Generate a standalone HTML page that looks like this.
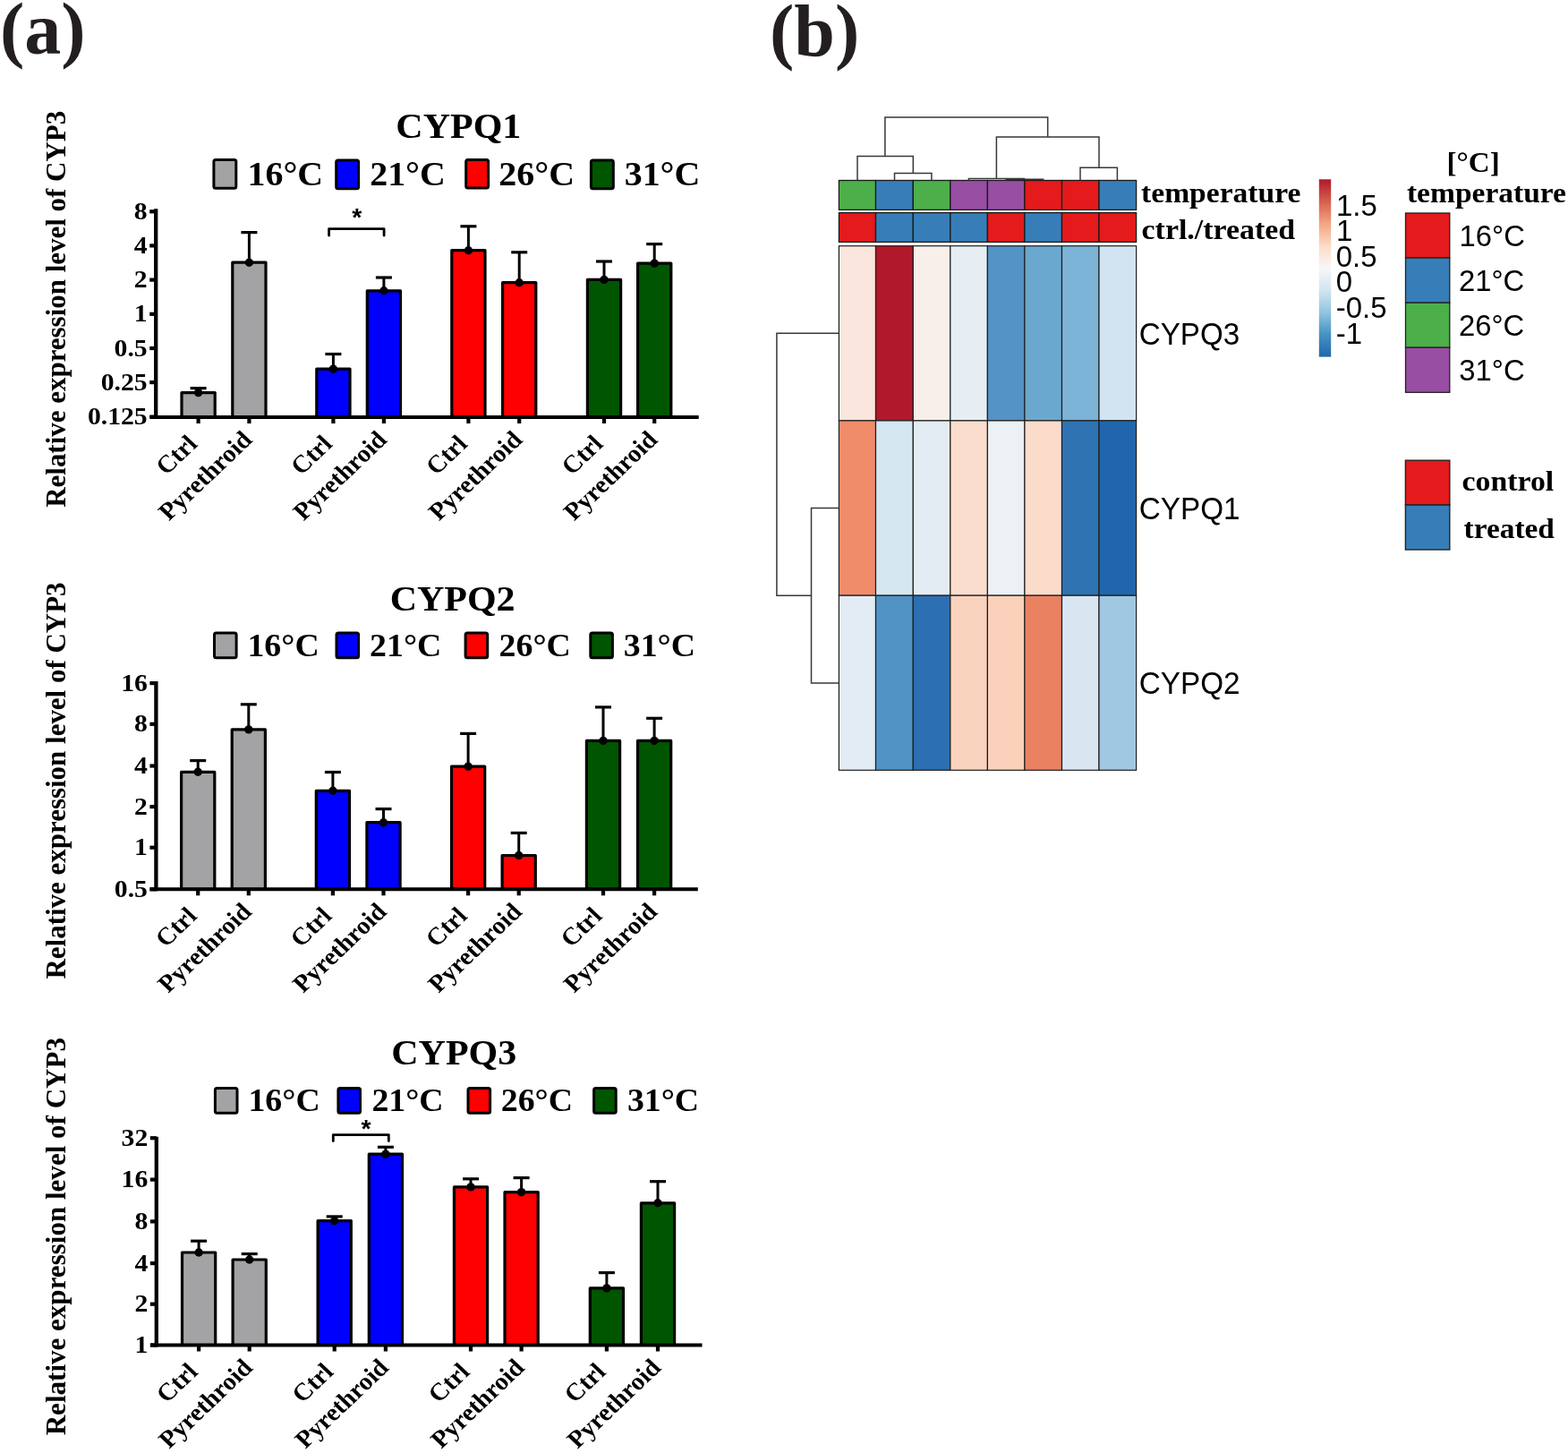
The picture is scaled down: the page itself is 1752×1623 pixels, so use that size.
<!DOCTYPE html>
<html><head><meta charset="utf-8"><title>Figure</title>
<style>html,body{margin:0;padding:0;background:#fff;} svg{display:block;}</style>
</head><body>
<svg width="1752" height="1623" viewBox="0 0 1752 1623">
<rect width="1752" height="1623" fill="#fff"/>
<text x="0" y="60" font-family="'Liberation Serif', serif" font-weight="bold" font-size="82" fill="#231F20">(a)</text>
<text x="860" y="62" font-family="'Liberation Serif', serif" font-weight="bold" font-size="82" fill="#231F20">(b)</text>
<text transform="translate(442.35 154.40) scale(1.05 1)" font-family="'Liberation Serif', serif" font-weight="bold" font-size="40">CYPQ1</text>
<rect x="238.9" y="178.6" width="24.9" height="31.6" rx="2" fill="#A3A3A5" stroke="#000" stroke-width="3"/>
<text transform="translate(276.50 207.40) scale(1.05 1)" font-family="'Liberation Serif', serif" font-weight="bold" font-size="38">16°C</text>
<rect x="375.7" y="179.1" width="24.9" height="31.6" rx="2" fill="#0000FF" stroke="#000" stroke-width="3"/>
<text transform="translate(413.22 207.40) scale(1.05 1)" font-family="'Liberation Serif', serif" font-weight="bold" font-size="38">21°C</text>
<rect x="520.7" y="178.5" width="24.9" height="31.6" rx="2" fill="#FF0000" stroke="#000" stroke-width="3"/>
<text transform="translate(557.32 207.40) scale(1.05 1)" font-family="'Liberation Serif', serif" font-weight="bold" font-size="38">26°C</text>
<rect x="660.4" y="179.1" width="24.9" height="31.6" rx="2" fill="#005500" stroke="#000" stroke-width="3"/>
<text transform="translate(697.70 207.40) scale(1.05 1)" font-family="'Liberation Serif', serif" font-weight="bold" font-size="38">31°C</text>
<rect x="203.0" y="438.6" width="37.2" height="27.4" fill="#A3A3A5" stroke="#000" stroke-width="3.2" stroke-linejoin="round"/>
<line x1="221.6" y1="439.0" x2="221.6" y2="433.6" stroke="#000" stroke-width="3"/>
<line x1="212.6" y1="433.6" x2="230.6" y2="433.6" stroke="#000" stroke-width="3.2"/>
<circle cx="221.6" cy="438.6" r="4.7" fill="#000"/>
<line x1="221.6" y1="466.0" x2="221.6" y2="473.0" stroke="#000" stroke-width="4.2"/>
<rect x="259.8" y="293.2" width="37.2" height="172.8" fill="#A3A3A5" stroke="#000" stroke-width="3.2" stroke-linejoin="round"/>
<line x1="278.4" y1="293.6" x2="278.4" y2="259.6" stroke="#000" stroke-width="3"/>
<line x1="269.4" y1="259.6" x2="287.4" y2="259.6" stroke="#000" stroke-width="3.2"/>
<circle cx="278.4" cy="293.2" r="4.7" fill="#000"/>
<line x1="278.4" y1="466.0" x2="278.4" y2="473.0" stroke="#000" stroke-width="4.2"/>
<rect x="353.8" y="412.1" width="37.2" height="53.9" fill="#0000FF" stroke="#000" stroke-width="3.2" stroke-linejoin="round"/>
<line x1="372.4" y1="412.5" x2="372.4" y2="395.5" stroke="#000" stroke-width="3"/>
<line x1="363.4" y1="395.5" x2="381.4" y2="395.5" stroke="#000" stroke-width="3.2"/>
<circle cx="372.4" cy="412.1" r="4.7" fill="#000"/>
<line x1="372.4" y1="466.0" x2="372.4" y2="473.0" stroke="#000" stroke-width="4.2"/>
<rect x="410.3" y="324.8" width="37.2" height="141.2" fill="#0000FF" stroke="#000" stroke-width="3.2" stroke-linejoin="round"/>
<line x1="428.9" y1="325.2" x2="428.9" y2="310.0" stroke="#000" stroke-width="3"/>
<line x1="419.9" y1="310.0" x2="437.9" y2="310.0" stroke="#000" stroke-width="3.2"/>
<circle cx="428.9" cy="324.8" r="4.7" fill="#000"/>
<line x1="428.9" y1="466.0" x2="428.9" y2="473.0" stroke="#000" stroke-width="4.2"/>
<rect x="504.8" y="279.7" width="37.2" height="186.3" fill="#FF0000" stroke="#000" stroke-width="3.2" stroke-linejoin="round"/>
<line x1="523.4" y1="280.1" x2="523.4" y2="252.8" stroke="#000" stroke-width="3"/>
<line x1="514.4" y1="252.8" x2="532.4" y2="252.8" stroke="#000" stroke-width="3.2"/>
<circle cx="523.4" cy="279.7" r="4.7" fill="#000"/>
<line x1="523.4" y1="466.0" x2="523.4" y2="473.0" stroke="#000" stroke-width="4.2"/>
<rect x="561.6" y="315.7" width="37.2" height="150.3" fill="#FF0000" stroke="#000" stroke-width="3.2" stroke-linejoin="round"/>
<line x1="580.2" y1="316.1" x2="580.2" y2="281.8" stroke="#000" stroke-width="3"/>
<line x1="571.2" y1="281.8" x2="589.2" y2="281.8" stroke="#000" stroke-width="3.2"/>
<circle cx="580.2" cy="315.7" r="4.7" fill="#000"/>
<line x1="580.2" y1="466.0" x2="580.2" y2="473.0" stroke="#000" stroke-width="4.2"/>
<rect x="656.4" y="312.4" width="37.2" height="153.6" fill="#005500" stroke="#000" stroke-width="3.2" stroke-linejoin="round"/>
<line x1="675.0" y1="312.8" x2="675.0" y2="292.0" stroke="#000" stroke-width="3"/>
<line x1="666.0" y1="292.0" x2="684.0" y2="292.0" stroke="#000" stroke-width="3.2"/>
<circle cx="675.0" cy="312.4" r="4.7" fill="#000"/>
<line x1="675.0" y1="466.0" x2="675.0" y2="473.0" stroke="#000" stroke-width="4.2"/>
<rect x="712.6" y="294.1" width="37.2" height="171.9" fill="#005500" stroke="#000" stroke-width="3.2" stroke-linejoin="round"/>
<line x1="731.2" y1="294.5" x2="731.2" y2="272.6" stroke="#000" stroke-width="3"/>
<line x1="722.2" y1="272.6" x2="740.2" y2="272.6" stroke="#000" stroke-width="3.2"/>
<circle cx="731.2" cy="294.1" r="4.7" fill="#000"/>
<line x1="731.2" y1="466.0" x2="731.2" y2="473.0" stroke="#000" stroke-width="4.2"/>
<line x1="174.2" y1="233.2" x2="174.2" y2="468.0" stroke="#000" stroke-width="4.3"/>
<line x1="167.5" y1="466.0" x2="780.7" y2="466.0" stroke="#000" stroke-width="4"/>
<line x1="167.2" y1="236.3" x2="174.2" y2="236.3" stroke="#000" stroke-width="4.2"/>
<text transform="translate(164.70 244.90) scale(1.05 1)" text-anchor="end" font-family="'Liberation Serif', serif" font-weight="bold" font-size="28.3">8</text>
<line x1="167.2" y1="274.4" x2="174.2" y2="274.4" stroke="#000" stroke-width="4.2"/>
<text transform="translate(164.70 283.00) scale(1.05 1)" text-anchor="end" font-family="'Liberation Serif', serif" font-weight="bold" font-size="28.3">4</text>
<line x1="167.2" y1="312.6" x2="174.2" y2="312.6" stroke="#000" stroke-width="4.2"/>
<text transform="translate(164.70 321.20) scale(1.05 1)" text-anchor="end" font-family="'Liberation Serif', serif" font-weight="bold" font-size="28.3">2</text>
<line x1="167.2" y1="350.8" x2="174.2" y2="350.8" stroke="#000" stroke-width="4.2"/>
<text transform="translate(164.70 359.40) scale(1.05 1)" text-anchor="end" font-family="'Liberation Serif', serif" font-weight="bold" font-size="28.3">1</text>
<line x1="167.2" y1="389.0" x2="174.2" y2="389.0" stroke="#000" stroke-width="4.2"/>
<text transform="translate(164.70 397.60) scale(1.05 1)" text-anchor="end" font-family="'Liberation Serif', serif" font-weight="bold" font-size="28.3">0.5</text>
<line x1="167.2" y1="427.1" x2="174.2" y2="427.1" stroke="#000" stroke-width="4.2"/>
<text transform="translate(164.70 435.70) scale(1.05 1)" text-anchor="end" font-family="'Liberation Serif', serif" font-weight="bold" font-size="28.3">0.25</text>
<line x1="167.2" y1="465.6" x2="174.2" y2="465.6" stroke="#000" stroke-width="4.2"/>
<text transform="translate(164.70 474.20) scale(1.05 1)" text-anchor="end" font-family="'Liberation Serif', serif" font-weight="bold" font-size="28.3">0.125</text>
<text transform="translate(221.90 497.30) scale(1.05 1) rotate(-45)" text-anchor="end" font-family="'Liberation Serif', serif" font-weight="bold" font-size="27.5">Ctrl</text>
<text transform="translate(283.20 492.60) scale(1.05 1) rotate(-45)" text-anchor="end" font-family="'Liberation Serif', serif" font-weight="bold" font-size="27.5">Pyrethroid</text>
<text transform="translate(372.70 497.30) scale(1.05 1) rotate(-45)" text-anchor="end" font-family="'Liberation Serif', serif" font-weight="bold" font-size="27.5">Ctrl</text>
<text transform="translate(433.70 492.60) scale(1.05 1) rotate(-45)" text-anchor="end" font-family="'Liberation Serif', serif" font-weight="bold" font-size="27.5">Pyrethroid</text>
<text transform="translate(523.70 497.30) scale(1.05 1) rotate(-45)" text-anchor="end" font-family="'Liberation Serif', serif" font-weight="bold" font-size="27.5">Ctrl</text>
<text transform="translate(585.00 492.60) scale(1.05 1) rotate(-45)" text-anchor="end" font-family="'Liberation Serif', serif" font-weight="bold" font-size="27.5">Pyrethroid</text>
<text transform="translate(675.30 497.30) scale(1.05 1) rotate(-45)" text-anchor="end" font-family="'Liberation Serif', serif" font-weight="bold" font-size="27.5">Ctrl</text>
<text transform="translate(736.00 492.60) scale(1.05 1) rotate(-45)" text-anchor="end" font-family="'Liberation Serif', serif" font-weight="bold" font-size="27.5">Pyrethroid</text>
<polyline points="367.6,263.1 367.6,255.6 429.1,255.6 429.1,263.1" fill="none" stroke="#000" stroke-width="2.8" stroke-linejoin="round" stroke-linecap="round"/>
<text transform="translate(398.70 251.90) scale(1.0 1)" text-anchor="middle" font-family="'Liberation Sans', sans-serif" font-weight="bold" font-size="28.4">*</text>
<text transform="translate(72.70 566.80) scale(1.05 1) rotate(-90)" font-family="'Liberation Serif', serif" font-weight="bold" font-size="31" textLength="443.0" lengthAdjust="spacingAndGlyphs">Relative expression level of CYP3</text>
<text transform="translate(435.65 681.50) scale(1.05 1)" font-family="'Liberation Serif', serif" font-weight="bold" font-size="40">CYPQ2</text>
<rect x="239.5" y="707.0" width="24.6" height="27.8" rx="2" fill="#A3A3A5" stroke="#000" stroke-width="3"/>
<text transform="translate(276.47 732.70) scale(1.05 1)" font-family="'Liberation Serif', serif" font-weight="bold" font-size="36">16°C</text>
<rect x="376.0" y="707.0" width="24.6" height="27.8" rx="2" fill="#0000FF" stroke="#000" stroke-width="3"/>
<text transform="translate(413.11 732.70) scale(1.05 1)" font-family="'Liberation Serif', serif" font-weight="bold" font-size="36">21°C</text>
<rect x="520.1" y="707.0" width="24.6" height="27.8" rx="2" fill="#FF0000" stroke="#000" stroke-width="3"/>
<text transform="translate(557.61 732.70) scale(1.05 1)" font-family="'Liberation Serif', serif" font-weight="bold" font-size="36">26°C</text>
<rect x="659.8" y="707.0" width="24.6" height="27.8" rx="2" fill="#005500" stroke="#000" stroke-width="3"/>
<text transform="translate(696.78 732.70) scale(1.05 1)" font-family="'Liberation Serif', serif" font-weight="bold" font-size="36">31°C</text>
<rect x="202.6" y="862.3" width="37.2" height="131.0" fill="#A3A3A5" stroke="#000" stroke-width="3.2" stroke-linejoin="round"/>
<line x1="221.2" y1="862.7" x2="221.2" y2="849.6" stroke="#000" stroke-width="3"/>
<line x1="212.2" y1="849.6" x2="230.2" y2="849.6" stroke="#000" stroke-width="3.2"/>
<circle cx="221.2" cy="862.3" r="4.7" fill="#000"/>
<line x1="221.2" y1="993.3" x2="221.2" y2="1000.3" stroke="#000" stroke-width="4.2"/>
<rect x="259.2" y="814.9" width="37.2" height="178.4" fill="#A3A3A5" stroke="#000" stroke-width="3.2" stroke-linejoin="round"/>
<line x1="277.8" y1="815.3" x2="277.8" y2="786.8" stroke="#000" stroke-width="3"/>
<line x1="268.8" y1="786.8" x2="286.8" y2="786.8" stroke="#000" stroke-width="3.2"/>
<circle cx="277.8" cy="814.9" r="4.7" fill="#000"/>
<line x1="277.8" y1="993.3" x2="277.8" y2="1000.3" stroke="#000" stroke-width="4.2"/>
<rect x="353.3" y="883.3" width="37.2" height="110.0" fill="#0000FF" stroke="#000" stroke-width="3.2" stroke-linejoin="round"/>
<line x1="371.9" y1="883.7" x2="371.9" y2="862.5" stroke="#000" stroke-width="3"/>
<line x1="362.9" y1="862.5" x2="380.9" y2="862.5" stroke="#000" stroke-width="3.2"/>
<circle cx="371.9" cy="883.3" r="4.7" fill="#000"/>
<line x1="371.9" y1="993.3" x2="371.9" y2="1000.3" stroke="#000" stroke-width="4.2"/>
<rect x="409.9" y="918.7" width="37.2" height="74.6" fill="#0000FF" stroke="#000" stroke-width="3.2" stroke-linejoin="round"/>
<line x1="428.5" y1="919.1" x2="428.5" y2="903.6" stroke="#000" stroke-width="3"/>
<line x1="419.5" y1="903.6" x2="437.5" y2="903.6" stroke="#000" stroke-width="3.2"/>
<circle cx="428.5" cy="918.7" r="4.7" fill="#000"/>
<line x1="428.5" y1="993.3" x2="428.5" y2="1000.3" stroke="#000" stroke-width="4.2"/>
<rect x="504.5" y="856.1" width="37.2" height="137.2" fill="#FF0000" stroke="#000" stroke-width="3.2" stroke-linejoin="round"/>
<line x1="523.1" y1="856.5" x2="523.1" y2="819.4" stroke="#000" stroke-width="3"/>
<line x1="514.1" y1="819.4" x2="532.1" y2="819.4" stroke="#000" stroke-width="3.2"/>
<circle cx="523.1" cy="856.1" r="4.7" fill="#000"/>
<line x1="523.1" y1="993.3" x2="523.1" y2="1000.3" stroke="#000" stroke-width="4.2"/>
<rect x="561.1" y="955.5" width="37.2" height="37.8" fill="#FF0000" stroke="#000" stroke-width="3.2" stroke-linejoin="round"/>
<line x1="579.7" y1="955.9" x2="579.7" y2="930.4" stroke="#000" stroke-width="3"/>
<line x1="570.7" y1="930.4" x2="588.7" y2="930.4" stroke="#000" stroke-width="3.2"/>
<circle cx="579.7" cy="955.5" r="4.7" fill="#000"/>
<line x1="579.7" y1="993.3" x2="579.7" y2="1000.3" stroke="#000" stroke-width="4.2"/>
<rect x="655.4" y="827.4" width="37.2" height="165.9" fill="#005500" stroke="#000" stroke-width="3.2" stroke-linejoin="round"/>
<line x1="674.0" y1="827.8" x2="674.0" y2="789.9" stroke="#000" stroke-width="3"/>
<line x1="665.0" y1="789.9" x2="683.0" y2="789.9" stroke="#000" stroke-width="3.2"/>
<circle cx="674.0" cy="827.4" r="4.7" fill="#000"/>
<line x1="674.0" y1="993.3" x2="674.0" y2="1000.3" stroke="#000" stroke-width="4.2"/>
<rect x="712.5" y="827.4" width="37.2" height="165.9" fill="#005500" stroke="#000" stroke-width="3.2" stroke-linejoin="round"/>
<line x1="731.1" y1="827.8" x2="731.1" y2="802.3" stroke="#000" stroke-width="3"/>
<line x1="722.1" y1="802.3" x2="740.1" y2="802.3" stroke="#000" stroke-width="3.2"/>
<circle cx="731.1" cy="827.4" r="4.7" fill="#000"/>
<line x1="731.1" y1="993.3" x2="731.1" y2="1000.3" stroke="#000" stroke-width="4.2"/>
<line x1="174.4" y1="760.9" x2="174.4" y2="995.3" stroke="#000" stroke-width="4.3"/>
<line x1="167.5" y1="993.3" x2="779.8" y2="993.3" stroke="#000" stroke-width="4"/>
<line x1="167.4" y1="763.1" x2="174.4" y2="763.1" stroke="#000" stroke-width="4.2"/>
<text transform="translate(164.90 771.70) scale(1.05 1)" text-anchor="end" font-family="'Liberation Serif', serif" font-weight="bold" font-size="28.3">16</text>
<line x1="167.4" y1="808.8" x2="174.4" y2="808.8" stroke="#000" stroke-width="4.2"/>
<text transform="translate(164.90 817.40) scale(1.05 1)" text-anchor="end" font-family="'Liberation Serif', serif" font-weight="bold" font-size="28.3">8</text>
<line x1="167.4" y1="855.5" x2="174.4" y2="855.5" stroke="#000" stroke-width="4.2"/>
<text transform="translate(164.90 864.10) scale(1.05 1)" text-anchor="end" font-family="'Liberation Serif', serif" font-weight="bold" font-size="28.3">4</text>
<line x1="167.4" y1="901.1" x2="174.4" y2="901.1" stroke="#000" stroke-width="4.2"/>
<text transform="translate(164.90 909.70) scale(1.05 1)" text-anchor="end" font-family="'Liberation Serif', serif" font-weight="bold" font-size="28.3">2</text>
<line x1="167.4" y1="946.7" x2="174.4" y2="946.7" stroke="#000" stroke-width="4.2"/>
<text transform="translate(164.90 955.30) scale(1.05 1)" text-anchor="end" font-family="'Liberation Serif', serif" font-weight="bold" font-size="28.3">1</text>
<line x1="167.4" y1="993.3" x2="174.4" y2="993.3" stroke="#000" stroke-width="4.2"/>
<text transform="translate(164.90 1001.90) scale(1.05 1)" text-anchor="end" font-family="'Liberation Serif', serif" font-weight="bold" font-size="28.3">0.5</text>
<text transform="translate(221.50 1024.60) scale(1.05 1) rotate(-45)" text-anchor="end" font-family="'Liberation Serif', serif" font-weight="bold" font-size="27.5">Ctrl</text>
<text transform="translate(282.60 1019.90) scale(1.05 1) rotate(-45)" text-anchor="end" font-family="'Liberation Serif', serif" font-weight="bold" font-size="27.5">Pyrethroid</text>
<text transform="translate(372.20 1024.60) scale(1.05 1) rotate(-45)" text-anchor="end" font-family="'Liberation Serif', serif" font-weight="bold" font-size="27.5">Ctrl</text>
<text transform="translate(433.30 1019.90) scale(1.05 1) rotate(-45)" text-anchor="end" font-family="'Liberation Serif', serif" font-weight="bold" font-size="27.5">Pyrethroid</text>
<text transform="translate(523.40 1024.60) scale(1.05 1) rotate(-45)" text-anchor="end" font-family="'Liberation Serif', serif" font-weight="bold" font-size="27.5">Ctrl</text>
<text transform="translate(584.50 1019.90) scale(1.05 1) rotate(-45)" text-anchor="end" font-family="'Liberation Serif', serif" font-weight="bold" font-size="27.5">Pyrethroid</text>
<text transform="translate(674.30 1024.60) scale(1.05 1) rotate(-45)" text-anchor="end" font-family="'Liberation Serif', serif" font-weight="bold" font-size="27.5">Ctrl</text>
<text transform="translate(735.90 1019.90) scale(1.05 1) rotate(-45)" text-anchor="end" font-family="'Liberation Serif', serif" font-weight="bold" font-size="27.5">Pyrethroid</text>
<text transform="translate(72.70 1093.50) scale(1.05 1) rotate(-90)" font-family="'Liberation Serif', serif" font-weight="bold" font-size="31" textLength="443.1" lengthAdjust="spacingAndGlyphs">Relative expression level of CYP3</text>
<text transform="translate(437.25 1189.00) scale(1.05 1)" font-family="'Liberation Serif', serif" font-weight="bold" font-size="40">CYPQ3</text>
<rect x="240.4" y="1215.4" width="24.6" height="27.8" rx="2" fill="#A3A3A5" stroke="#000" stroke-width="3"/>
<text transform="translate(277.47 1241.10) scale(1.05 1)" font-family="'Liberation Serif', serif" font-weight="bold" font-size="36">16°C</text>
<rect x="377.9" y="1215.4" width="24.6" height="27.8" rx="2" fill="#0000FF" stroke="#000" stroke-width="3"/>
<text transform="translate(415.41 1241.10) scale(1.05 1)" font-family="'Liberation Serif', serif" font-weight="bold" font-size="36">21°C</text>
<rect x="523.0" y="1215.4" width="24.6" height="27.8" rx="2" fill="#FF0000" stroke="#000" stroke-width="3"/>
<text transform="translate(559.81 1241.10) scale(1.05 1)" font-family="'Liberation Serif', serif" font-weight="bold" font-size="36">26°C</text>
<rect x="663.6" y="1215.4" width="24.6" height="27.8" rx="2" fill="#005500" stroke="#000" stroke-width="3"/>
<text transform="translate(700.88 1241.10) scale(1.05 1)" font-family="'Liberation Serif', serif" font-weight="bold" font-size="36">31°C</text>
<rect x="203.5" y="1399.0" width="37.2" height="103.5" fill="#A3A3A5" stroke="#000" stroke-width="3.2" stroke-linejoin="round"/>
<line x1="222.1" y1="1399.4" x2="222.1" y2="1386.2" stroke="#000" stroke-width="3"/>
<line x1="213.1" y1="1386.2" x2="231.1" y2="1386.2" stroke="#000" stroke-width="3.2"/>
<circle cx="222.1" cy="1399.0" r="4.7" fill="#000"/>
<line x1="222.1" y1="1502.5" x2="222.1" y2="1509.5" stroke="#000" stroke-width="4.2"/>
<rect x="260.1" y="1407.0" width="37.2" height="95.5" fill="#A3A3A5" stroke="#000" stroke-width="3.2" stroke-linejoin="round"/>
<line x1="278.7" y1="1407.4" x2="278.7" y2="1400.6" stroke="#000" stroke-width="3"/>
<line x1="269.7" y1="1400.6" x2="287.7" y2="1400.6" stroke="#000" stroke-width="3.2"/>
<circle cx="278.7" cy="1407.0" r="4.7" fill="#000"/>
<line x1="278.7" y1="1502.5" x2="278.7" y2="1509.5" stroke="#000" stroke-width="4.2"/>
<rect x="355.1" y="1363.7" width="37.2" height="138.8" fill="#0000FF" stroke="#000" stroke-width="3.2" stroke-linejoin="round"/>
<line x1="373.7" y1="1364.1" x2="373.7" y2="1358.9" stroke="#000" stroke-width="3"/>
<line x1="364.7" y1="1358.9" x2="382.7" y2="1358.9" stroke="#000" stroke-width="3.2"/>
<circle cx="373.7" cy="1363.7" r="4.7" fill="#000"/>
<line x1="373.7" y1="1502.5" x2="373.7" y2="1509.5" stroke="#000" stroke-width="4.2"/>
<rect x="412.3" y="1289.1" width="37.2" height="213.4" fill="#0000FF" stroke="#000" stroke-width="3.2" stroke-linejoin="round"/>
<line x1="430.9" y1="1289.5" x2="430.9" y2="1281.3" stroke="#000" stroke-width="3"/>
<line x1="421.9" y1="1281.3" x2="439.9" y2="1281.3" stroke="#000" stroke-width="3.2"/>
<circle cx="430.9" cy="1289.1" r="4.7" fill="#000"/>
<line x1="430.9" y1="1502.5" x2="430.9" y2="1509.5" stroke="#000" stroke-width="4.2"/>
<rect x="507.4" y="1325.9" width="37.2" height="176.6" fill="#FF0000" stroke="#000" stroke-width="3.2" stroke-linejoin="round"/>
<line x1="526.0" y1="1326.3" x2="526.0" y2="1316.8" stroke="#000" stroke-width="3"/>
<line x1="517.0" y1="1316.8" x2="535.0" y2="1316.8" stroke="#000" stroke-width="3.2"/>
<circle cx="526.0" cy="1325.9" r="4.7" fill="#000"/>
<line x1="526.0" y1="1502.5" x2="526.0" y2="1509.5" stroke="#000" stroke-width="4.2"/>
<rect x="564.0" y="1331.6" width="37.2" height="170.9" fill="#FF0000" stroke="#000" stroke-width="3.2" stroke-linejoin="round"/>
<line x1="582.6" y1="1332.0" x2="582.6" y2="1315.6" stroke="#000" stroke-width="3"/>
<line x1="573.6" y1="1315.6" x2="591.6" y2="1315.6" stroke="#000" stroke-width="3.2"/>
<circle cx="582.6" cy="1331.6" r="4.7" fill="#000"/>
<line x1="582.6" y1="1502.5" x2="582.6" y2="1509.5" stroke="#000" stroke-width="4.2"/>
<rect x="659.3" y="1438.9" width="37.2" height="63.6" fill="#005500" stroke="#000" stroke-width="3.2" stroke-linejoin="round"/>
<line x1="677.9" y1="1439.3" x2="677.9" y2="1421.6" stroke="#000" stroke-width="3"/>
<line x1="668.9" y1="1421.6" x2="686.9" y2="1421.6" stroke="#000" stroke-width="3.2"/>
<circle cx="677.9" cy="1438.9" r="4.7" fill="#000"/>
<line x1="677.9" y1="1502.5" x2="677.9" y2="1509.5" stroke="#000" stroke-width="4.2"/>
<rect x="716.4" y="1343.8" width="37.2" height="158.7" fill="#005500" stroke="#000" stroke-width="3.2" stroke-linejoin="round"/>
<line x1="735.0" y1="1344.2" x2="735.0" y2="1319.7" stroke="#000" stroke-width="3"/>
<line x1="726.0" y1="1319.7" x2="744.0" y2="1319.7" stroke="#000" stroke-width="3.2"/>
<circle cx="735.0" cy="1343.8" r="4.7" fill="#000"/>
<line x1="735.0" y1="1502.5" x2="735.0" y2="1509.5" stroke="#000" stroke-width="4.2"/>
<line x1="174.8" y1="1269.7" x2="174.8" y2="1504.5" stroke="#000" stroke-width="4.3"/>
<line x1="168.0" y1="1502.5" x2="784.5" y2="1502.5" stroke="#000" stroke-width="4"/>
<line x1="167.8" y1="1271.2" x2="174.8" y2="1271.2" stroke="#000" stroke-width="4.2"/>
<text transform="translate(165.30 1279.80) scale(1.05 1)" text-anchor="end" font-family="'Liberation Serif', serif" font-weight="bold" font-size="28.3">32</text>
<line x1="167.8" y1="1317.6" x2="174.8" y2="1317.6" stroke="#000" stroke-width="4.2"/>
<text transform="translate(165.30 1326.20) scale(1.05 1)" text-anchor="end" font-family="'Liberation Serif', serif" font-weight="bold" font-size="28.3">16</text>
<line x1="167.8" y1="1364.4" x2="174.8" y2="1364.4" stroke="#000" stroke-width="4.2"/>
<text transform="translate(165.30 1373.00) scale(1.05 1)" text-anchor="end" font-family="'Liberation Serif', serif" font-weight="bold" font-size="28.3">8</text>
<line x1="167.8" y1="1411.1" x2="174.8" y2="1411.1" stroke="#000" stroke-width="4.2"/>
<text transform="translate(165.30 1419.70) scale(1.05 1)" text-anchor="end" font-family="'Liberation Serif', serif" font-weight="bold" font-size="28.3">4</text>
<line x1="167.8" y1="1456.7" x2="174.8" y2="1456.7" stroke="#000" stroke-width="4.2"/>
<text transform="translate(165.30 1465.30) scale(1.05 1)" text-anchor="end" font-family="'Liberation Serif', serif" font-weight="bold" font-size="28.3">2</text>
<line x1="167.8" y1="1502.5" x2="174.8" y2="1502.5" stroke="#000" stroke-width="4.2"/>
<text transform="translate(165.30 1511.10) scale(1.05 1)" text-anchor="end" font-family="'Liberation Serif', serif" font-weight="bold" font-size="28.3">1</text>
<text transform="translate(222.40 1533.80) scale(1.05 1) rotate(-45)" text-anchor="end" font-family="'Liberation Serif', serif" font-weight="bold" font-size="27.5">Ctrl</text>
<text transform="translate(283.50 1529.10) scale(1.05 1) rotate(-45)" text-anchor="end" font-family="'Liberation Serif', serif" font-weight="bold" font-size="27.5">Pyrethroid</text>
<text transform="translate(374.00 1533.80) scale(1.05 1) rotate(-45)" text-anchor="end" font-family="'Liberation Serif', serif" font-weight="bold" font-size="27.5">Ctrl</text>
<text transform="translate(435.70 1529.10) scale(1.05 1) rotate(-45)" text-anchor="end" font-family="'Liberation Serif', serif" font-weight="bold" font-size="27.5">Pyrethroid</text>
<text transform="translate(526.30 1533.80) scale(1.05 1) rotate(-45)" text-anchor="end" font-family="'Liberation Serif', serif" font-weight="bold" font-size="27.5">Ctrl</text>
<text transform="translate(587.40 1529.10) scale(1.05 1) rotate(-45)" text-anchor="end" font-family="'Liberation Serif', serif" font-weight="bold" font-size="27.5">Pyrethroid</text>
<text transform="translate(678.20 1533.80) scale(1.05 1) rotate(-45)" text-anchor="end" font-family="'Liberation Serif', serif" font-weight="bold" font-size="27.5">Ctrl</text>
<text transform="translate(739.80 1529.10) scale(1.05 1) rotate(-45)" text-anchor="end" font-family="'Liberation Serif', serif" font-weight="bold" font-size="27.5">Pyrethroid</text>
<polyline points="372.3,1274.6 372.3,1267.6 434.3,1267.6 434.3,1274.6" fill="none" stroke="#000" stroke-width="2.8" stroke-linejoin="round" stroke-linecap="round"/>
<text transform="translate(409.00 1270.20) scale(1.0 1)" text-anchor="middle" font-family="'Liberation Sans', sans-serif" font-weight="bold" font-size="28.4">*</text>
<text transform="translate(73.00 1603.30) scale(1.05 1) rotate(-90)" font-family="'Liberation Serif', serif" font-weight="bold" font-size="31" textLength="444.3" lengthAdjust="spacingAndGlyphs">Relative expression level of CYP3</text>
<rect x="937.4" y="201.5" width="41.1" height="32.9" fill="#4DAF4A" stroke="#1a1a1a" stroke-width="1.3"/>
<rect x="978.5" y="201.5" width="41.8" height="32.9" fill="#377EB8" stroke="#1a1a1a" stroke-width="1.3"/>
<rect x="1020.3" y="201.5" width="41.5" height="32.9" fill="#4DAF4A" stroke="#1a1a1a" stroke-width="1.3"/>
<rect x="1061.8" y="201.5" width="41.6" height="32.9" fill="#984EA3" stroke="#1a1a1a" stroke-width="1.3"/>
<rect x="1103.4" y="201.5" width="41.5" height="32.9" fill="#984EA3" stroke="#1a1a1a" stroke-width="1.3"/>
<rect x="1144.9" y="201.5" width="41.6" height="32.9" fill="#E41A1C" stroke="#1a1a1a" stroke-width="1.3"/>
<rect x="1186.5" y="201.5" width="41.5" height="32.9" fill="#E41A1C" stroke="#1a1a1a" stroke-width="1.3"/>
<rect x="1228.0" y="201.5" width="41.6" height="32.9" fill="#377EB8" stroke="#1a1a1a" stroke-width="1.3"/>
<rect x="937.4" y="237.6" width="41.1" height="32.8" fill="#E41A1C" stroke="#1a1a1a" stroke-width="1.3"/>
<rect x="978.5" y="237.6" width="41.8" height="32.8" fill="#377EB8" stroke="#1a1a1a" stroke-width="1.3"/>
<rect x="1020.3" y="237.6" width="41.5" height="32.8" fill="#377EB8" stroke="#1a1a1a" stroke-width="1.3"/>
<rect x="1061.8" y="237.6" width="41.6" height="32.8" fill="#377EB8" stroke="#1a1a1a" stroke-width="1.3"/>
<rect x="1103.4" y="237.6" width="41.5" height="32.8" fill="#E41A1C" stroke="#1a1a1a" stroke-width="1.3"/>
<rect x="1144.9" y="237.6" width="41.6" height="32.8" fill="#377EB8" stroke="#1a1a1a" stroke-width="1.3"/>
<rect x="1186.5" y="237.6" width="41.5" height="32.8" fill="#E41A1C" stroke="#1a1a1a" stroke-width="1.3"/>
<rect x="1228.0" y="237.6" width="41.6" height="32.8" fill="#E41A1C" stroke="#1a1a1a" stroke-width="1.3"/>
<rect x="937.4" y="274.7" width="41.1" height="195.2" fill="#FAE6DC" stroke="#1e1e1e" stroke-width="1.2"/>
<rect x="978.5" y="274.7" width="41.8" height="195.2" fill="#B2182B" stroke="#1e1e1e" stroke-width="1.2"/>
<rect x="1020.3" y="274.7" width="41.5" height="195.2" fill="#F9EFEA" stroke="#1e1e1e" stroke-width="1.2"/>
<rect x="1061.8" y="274.7" width="41.6" height="195.2" fill="#E6EEF3" stroke="#1e1e1e" stroke-width="1.2"/>
<rect x="1103.4" y="274.7" width="41.5" height="195.2" fill="#5393C5" stroke="#1e1e1e" stroke-width="1.2"/>
<rect x="1144.9" y="274.7" width="41.6" height="195.2" fill="#6AA8D0" stroke="#1e1e1e" stroke-width="1.2"/>
<rect x="1186.5" y="274.7" width="41.5" height="195.2" fill="#7BB4D6" stroke="#1e1e1e" stroke-width="1.2"/>
<rect x="1228.0" y="274.7" width="41.6" height="195.2" fill="#D2E4F1" stroke="#1e1e1e" stroke-width="1.2"/>
<rect x="937.4" y="469.9" width="41.1" height="195.3" fill="#F08C6A" stroke="#1e1e1e" stroke-width="1.2"/>
<rect x="978.5" y="469.9" width="41.8" height="195.3" fill="#D5E7F1" stroke="#1e1e1e" stroke-width="1.2"/>
<rect x="1020.3" y="469.9" width="41.5" height="195.3" fill="#E4ECF3" stroke="#1e1e1e" stroke-width="1.2"/>
<rect x="1061.8" y="469.9" width="41.6" height="195.3" fill="#FBDDCD" stroke="#1e1e1e" stroke-width="1.2"/>
<rect x="1103.4" y="469.9" width="41.5" height="195.3" fill="#EBF1F5" stroke="#1e1e1e" stroke-width="1.2"/>
<rect x="1144.9" y="469.9" width="41.6" height="195.3" fill="#FBDCCB" stroke="#1e1e1e" stroke-width="1.2"/>
<rect x="1186.5" y="469.9" width="41.5" height="195.3" fill="#2F73B3" stroke="#1e1e1e" stroke-width="1.2"/>
<rect x="1228.0" y="469.9" width="41.6" height="195.3" fill="#2166AC" stroke="#1e1e1e" stroke-width="1.2"/>
<rect x="937.4" y="665.2" width="41.1" height="195.1" fill="#E3EBF4" stroke="#1e1e1e" stroke-width="1.2"/>
<rect x="978.5" y="665.2" width="41.8" height="195.1" fill="#5092C4" stroke="#1e1e1e" stroke-width="1.2"/>
<rect x="1020.3" y="665.2" width="41.5" height="195.1" fill="#2C6FB2" stroke="#1e1e1e" stroke-width="1.2"/>
<rect x="1061.8" y="665.2" width="41.6" height="195.1" fill="#FAD3BE" stroke="#1e1e1e" stroke-width="1.2"/>
<rect x="1103.4" y="665.2" width="41.5" height="195.1" fill="#FAD1BA" stroke="#1e1e1e" stroke-width="1.2"/>
<rect x="1144.9" y="665.2" width="41.6" height="195.1" fill="#EA8262" stroke="#1e1e1e" stroke-width="1.2"/>
<rect x="1186.5" y="665.2" width="41.5" height="195.1" fill="#D9E6F1" stroke="#1e1e1e" stroke-width="1.2"/>
<rect x="1228.0" y="665.2" width="41.6" height="195.1" fill="#A1C8E3" stroke="#1e1e1e" stroke-width="1.2"/>
<path d="M988.9,174.5 V131.0 H1170.7 V153.0 M958.0,201.5 V174.5 H1020.3 V193.5 M999.5,201.5 V193.5 H1040.9 V201.5 M1113.4,199.5 V153.0 H1228.0 V187.3 M1207.0,201.5 V187.3 H1248.4 V201.5 M1082.4,201.5 V199.5 H1144.5 V200.2 M1124.2,201.5 V200.2 H1165.7 V201.5 M937.4,372.2 H867.9 V665.2 H906.5 M937.4,567.5 H906.5 V762.9 H937.4" fill="none" stroke="#383838" stroke-width="1.5"/>
<text transform="translate(1275.06 225.70) scale(1.0332 1)" font-family="'Liberation Serif', serif" font-weight="bold" font-size="32.5">temperature</text>
<text transform="translate(1275.58 267.30) scale(1.0432 1)" font-family="'Liberation Serif', serif" font-weight="bold" font-size="32.5">ctrl./treated</text>
<text transform="translate(1272.74 384.50) scale(0.9427 1)" font-family="'Liberation Sans', sans-serif" font-size="35.2">CYPQ3</text>
<text transform="translate(1272.74 579.75) scale(0.9455 1)" font-family="'Liberation Sans', sans-serif" font-size="35.2">CYPQ1</text>
<text transform="translate(1272.74 774.95) scale(0.9455 1)" font-family="'Liberation Sans', sans-serif" font-size="35.2">CYPQ2</text>
<defs><linearGradient id="cb" x1="0" y1="0" x2="0" y2="1"><stop offset="0.000" stop-color="#B2182B"/><stop offset="0.125" stop-color="#D6604D"/><stop offset="0.250" stop-color="#F4A582"/><stop offset="0.375" stop-color="#FDDBC7"/><stop offset="0.500" stop-color="#F7F7F7"/><stop offset="0.625" stop-color="#D1E5F0"/><stop offset="0.750" stop-color="#92C5DE"/><stop offset="0.875" stop-color="#4393C3"/><stop offset="1.000" stop-color="#2166AC"/></linearGradient></defs>
<rect x="1473.8" y="200.3" width="13.4" height="198.3" fill="url(#cb)"/>
<text transform="translate(1492.96 240.70) scale(0.97 1)" font-family="'Liberation Sans', sans-serif" font-size="34">1.5</text>
<text transform="translate(1492.96 269.10) scale(0.97 1)" font-family="'Liberation Sans', sans-serif" font-size="34">1</text>
<text transform="translate(1492.68 297.80) scale(0.97 1)" font-family="'Liberation Sans', sans-serif" font-size="34">0.5</text>
<text transform="translate(1492.68 326.40) scale(0.97 1)" font-family="'Liberation Sans', sans-serif" font-size="34">0</text>
<text transform="translate(1492.68 355.10) scale(0.97 1)" font-family="'Liberation Sans', sans-serif" font-size="34">-0.5</text>
<text transform="translate(1492.68 383.80) scale(0.97 1)" font-family="'Liberation Sans', sans-serif" font-size="34">-1</text>
<text transform="translate(1616.48 192.30) scale(1.0206 1)" font-family="'Liberation Serif', serif" font-weight="bold" font-size="32.5">[°C]</text>
<text transform="translate(1571.96 225.60) scale(1.0315 1)" font-family="'Liberation Serif', serif" font-weight="bold" font-size="32.5">temperature</text>
<rect x="1570.5" y="238.0" width="49.3" height="50.1" fill="#E41A1C" stroke="#222" stroke-width="1.3"/>
<text transform="translate(1630.58 275.40) scale(0.965 1)" font-family="'Liberation Sans', sans-serif" font-size="34">16°C</text>
<rect x="1570.5" y="288.1" width="49.3" height="50.1" fill="#377EB8" stroke="#222" stroke-width="1.3"/>
<text transform="translate(1629.96 325.40) scale(0.965 1)" font-family="'Liberation Sans', sans-serif" font-size="34">21°C</text>
<rect x="1570.5" y="338.2" width="49.3" height="50.1" fill="#4DAF4A" stroke="#222" stroke-width="1.3"/>
<text transform="translate(1629.96 375.40) scale(0.965 1)" font-family="'Liberation Sans', sans-serif" font-size="34">26°C</text>
<rect x="1570.5" y="388.2" width="49.3" height="50.1" fill="#984EA3" stroke="#222" stroke-width="1.3"/>
<text transform="translate(1630.29 425.40) scale(0.965 1)" font-family="'Liberation Sans', sans-serif" font-size="34">31°C</text>
<rect x="1570.4" y="514.2" width="49.4" height="49.9" fill="#E41A1C" stroke="#222" stroke-width="1.4"/>
<rect x="1570.4" y="564.1" width="49.4" height="49.9" fill="#377EB8" stroke="#222" stroke-width="1.4"/>
<text transform="translate(1633.48 547.50) scale(1.0414 1)" font-family="'Liberation Serif', serif" font-weight="bold" font-size="32.5">control</text>
<text transform="translate(1635.57 600.50) scale(1.028 1)" font-family="'Liberation Serif', serif" font-weight="bold" font-size="32.5">treated</text>
</svg>
</body></html>
